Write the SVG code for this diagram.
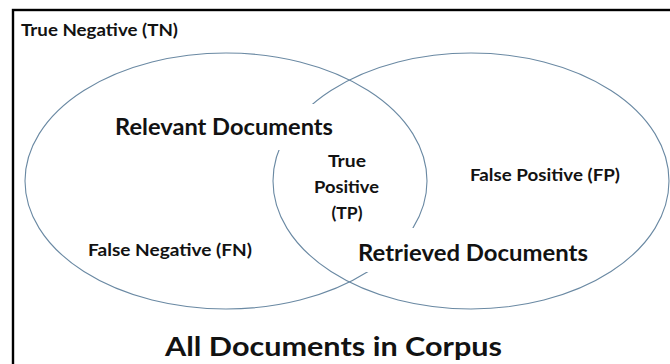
<svg xmlns="http://www.w3.org/2000/svg" width="670" height="364" viewBox="0 0 670 364">
<style>
.set{fill:none;stroke:#6a89a3;stroke-width:1.1}
.mask{fill:#ffffff;stroke:none}
.t{font-family:Lato,"Noto Sans","Liberation Sans",sans-serif;font-weight:700;fill:#121212}
.s{font-size:17px}
.m{font-size:23px}
.l{font-size:27px}
</style>
<rect width="670" height="364" fill="#ffffff"/>
<rect id="frame" x="13" y="10" width="700" height="420" fill="none" stroke="#000" stroke-width="2.4"/>
<g id="sets">
<ellipse id="relevant-set" class="set" cx="226" cy="181" rx="201" ry="128"/>
<ellipse id="retrieved-set" class="set" cx="471" cy="181" rx="198" ry="128"/>
</g>
<g id="tn"><text class="t s" x="21" y="36" textLength="157" lengthAdjust="spacingAndGlyphs">True Negative (TN)</text></g>
<g id="relevant">
<rect class="mask" x="105" y="104" width="238" height="46"/>
<text class="t m" x="115" y="135" textLength="218" lengthAdjust="spacingAndGlyphs">Relevant Documents</text>
</g>
<g id="tp">
<text class="t s" x="347" y="167" text-anchor="middle" textLength="38" lengthAdjust="spacingAndGlyphs">True</text>
<text class="t s" x="346.5" y="193" text-anchor="middle" textLength="65" lengthAdjust="spacingAndGlyphs">Positive</text>
<text class="t s" x="347" y="219" text-anchor="middle" textLength="31" lengthAdjust="spacingAndGlyphs">(TP)</text>
</g>
<g id="fp"><text class="t s" x="470" y="181" textLength="150" lengthAdjust="spacingAndGlyphs">False Positive (FP)</text></g>
<g id="fn"><text class="t s" x="88" y="256" textLength="164" lengthAdjust="spacingAndGlyphs">False Negative (FN)</text></g>
<g id="retrieved">
<rect class="mask" x="352" y="228" width="252" height="44"/>
<text class="t m" x="358" y="261" textLength="230" lengthAdjust="spacingAndGlyphs">Retrieved Documents</text>
</g>
<g id="corpus"><text class="t l" x="165" y="356" textLength="337" lengthAdjust="spacingAndGlyphs">All Documents in Corpus</text></g>
</svg>
